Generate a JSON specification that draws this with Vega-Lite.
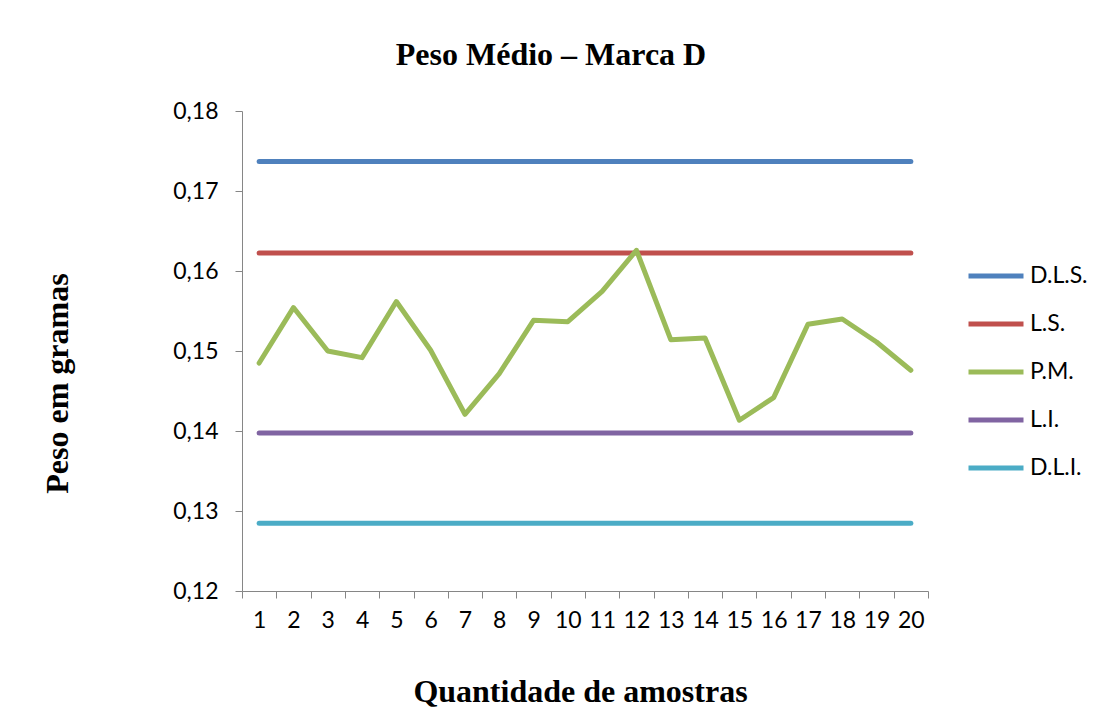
{
  "$schema": "https://vega.github.io/schema/vega-lite/v6.json",
  "width": 686,
  "height": 480,
  "autosize": {"type": "none"},
  "padding": {"left": 242, "top": 111, "right": 180, "bottom": 126},
  "background": "white",
  "title": {
    "text": "Peso Médio – Marca D",
    "font": "Liberation Serif",
    "fontSize": 32,
    "fontWeight": "bold",
    "color": "#000000",
    "anchor": "middle",
    "dx": -34,
    "offset": 28
  },
  "data": {
    "values": [
      {"amostra": 1, "serie": "D.L.S.", "peso": 0.1737},
      {"amostra": 2, "serie": "D.L.S.", "peso": 0.1737},
      {"amostra": 3, "serie": "D.L.S.", "peso": 0.1737},
      {"amostra": 4, "serie": "D.L.S.", "peso": 0.1737},
      {"amostra": 5, "serie": "D.L.S.", "peso": 0.1737},
      {"amostra": 6, "serie": "D.L.S.", "peso": 0.1737},
      {"amostra": 7, "serie": "D.L.S.", "peso": 0.1737},
      {"amostra": 8, "serie": "D.L.S.", "peso": 0.1737},
      {"amostra": 9, "serie": "D.L.S.", "peso": 0.1737},
      {"amostra": 10, "serie": "D.L.S.", "peso": 0.1737},
      {"amostra": 11, "serie": "D.L.S.", "peso": 0.1737},
      {"amostra": 12, "serie": "D.L.S.", "peso": 0.1737},
      {"amostra": 13, "serie": "D.L.S.", "peso": 0.1737},
      {"amostra": 14, "serie": "D.L.S.", "peso": 0.1737},
      {"amostra": 15, "serie": "D.L.S.", "peso": 0.1737},
      {"amostra": 16, "serie": "D.L.S.", "peso": 0.1737},
      {"amostra": 17, "serie": "D.L.S.", "peso": 0.1737},
      {"amostra": 18, "serie": "D.L.S.", "peso": 0.1737},
      {"amostra": 19, "serie": "D.L.S.", "peso": 0.1737},
      {"amostra": 20, "serie": "D.L.S.", "peso": 0.1737},
      {"amostra": 1, "serie": "L.S.", "peso": 0.16225},
      {"amostra": 2, "serie": "L.S.", "peso": 0.16225},
      {"amostra": 3, "serie": "L.S.", "peso": 0.16225},
      {"amostra": 4, "serie": "L.S.", "peso": 0.16225},
      {"amostra": 5, "serie": "L.S.", "peso": 0.16225},
      {"amostra": 6, "serie": "L.S.", "peso": 0.16225},
      {"amostra": 7, "serie": "L.S.", "peso": 0.16225},
      {"amostra": 8, "serie": "L.S.", "peso": 0.16225},
      {"amostra": 9, "serie": "L.S.", "peso": 0.16225},
      {"amostra": 10, "serie": "L.S.", "peso": 0.16225},
      {"amostra": 11, "serie": "L.S.", "peso": 0.16225},
      {"amostra": 12, "serie": "L.S.", "peso": 0.16225},
      {"amostra": 13, "serie": "L.S.", "peso": 0.16225},
      {"amostra": 14, "serie": "L.S.", "peso": 0.16225},
      {"amostra": 15, "serie": "L.S.", "peso": 0.16225},
      {"amostra": 16, "serie": "L.S.", "peso": 0.16225},
      {"amostra": 17, "serie": "L.S.", "peso": 0.16225},
      {"amostra": 18, "serie": "L.S.", "peso": 0.16225},
      {"amostra": 19, "serie": "L.S.", "peso": 0.16225},
      {"amostra": 20, "serie": "L.S.", "peso": 0.16225},
      {"amostra": 1, "serie": "P.M.", "peso": 0.1485},
      {"amostra": 2, "serie": "P.M.", "peso": 0.15543},
      {"amostra": 3, "serie": "P.M.", "peso": 0.1500},
      {"amostra": 4, "serie": "P.M.", "peso": 0.14917},
      {"amostra": 5, "serie": "P.M.", "peso": 0.15618},
      {"amostra": 6, "serie": "P.M.", "peso": 0.15009},
      {"amostra": 7, "serie": "P.M.", "peso": 0.14209},
      {"amostra": 8, "serie": "P.M.", "peso": 0.14717},
      {"amostra": 9, "serie": "P.M.", "peso": 0.15384},
      {"amostra": 10, "serie": "P.M.", "peso": 0.15367},
      {"amostra": 11, "serie": "P.M.", "peso": 0.15746},
      {"amostra": 12, "serie": "P.M.", "peso": 0.16259},
      {"amostra": 13, "serie": "P.M.", "peso": 0.15142},
      {"amostra": 14, "serie": "P.M.", "peso": 0.15163},
      {"amostra": 15, "serie": "P.M.", "peso": 0.14134},
      {"amostra": 16, "serie": "P.M.", "peso": 0.14417},
      {"amostra": 17, "serie": "P.M.", "peso": 0.15334},
      {"amostra": 18, "serie": "P.M.", "peso": 0.1540},
      {"amostra": 19, "serie": "P.M.", "peso": 0.15113},
      {"amostra": 20, "serie": "P.M.", "peso": 0.14759},
      {"amostra": 1, "serie": "L.I.", "peso": 0.13975},
      {"amostra": 2, "serie": "L.I.", "peso": 0.13975},
      {"amostra": 3, "serie": "L.I.", "peso": 0.13975},
      {"amostra": 4, "serie": "L.I.", "peso": 0.13975},
      {"amostra": 5, "serie": "L.I.", "peso": 0.13975},
      {"amostra": 6, "serie": "L.I.", "peso": 0.13975},
      {"amostra": 7, "serie": "L.I.", "peso": 0.13975},
      {"amostra": 8, "serie": "L.I.", "peso": 0.13975},
      {"amostra": 9, "serie": "L.I.", "peso": 0.13975},
      {"amostra": 10, "serie": "L.I.", "peso": 0.13975},
      {"amostra": 11, "serie": "L.I.", "peso": 0.13975},
      {"amostra": 12, "serie": "L.I.", "peso": 0.13975},
      {"amostra": 13, "serie": "L.I.", "peso": 0.13975},
      {"amostra": 14, "serie": "L.I.", "peso": 0.13975},
      {"amostra": 15, "serie": "L.I.", "peso": 0.13975},
      {"amostra": 16, "serie": "L.I.", "peso": 0.13975},
      {"amostra": 17, "serie": "L.I.", "peso": 0.13975},
      {"amostra": 18, "serie": "L.I.", "peso": 0.13975},
      {"amostra": 19, "serie": "L.I.", "peso": 0.13975},
      {"amostra": 20, "serie": "L.I.", "peso": 0.13975},
      {"amostra": 1, "serie": "D.L.I.", "peso": 0.12846},
      {"amostra": 2, "serie": "D.L.I.", "peso": 0.12846},
      {"amostra": 3, "serie": "D.L.I.", "peso": 0.12846},
      {"amostra": 4, "serie": "D.L.I.", "peso": 0.12846},
      {"amostra": 5, "serie": "D.L.I.", "peso": 0.12846},
      {"amostra": 6, "serie": "D.L.I.", "peso": 0.12846},
      {"amostra": 7, "serie": "D.L.I.", "peso": 0.12846},
      {"amostra": 8, "serie": "D.L.I.", "peso": 0.12846},
      {"amostra": 9, "serie": "D.L.I.", "peso": 0.12846},
      {"amostra": 10, "serie": "D.L.I.", "peso": 0.12846},
      {"amostra": 11, "serie": "D.L.I.", "peso": 0.12846},
      {"amostra": 12, "serie": "D.L.I.", "peso": 0.12846},
      {"amostra": 13, "serie": "D.L.I.", "peso": 0.12846},
      {"amostra": 14, "serie": "D.L.I.", "peso": 0.12846},
      {"amostra": 15, "serie": "D.L.I.", "peso": 0.12846},
      {"amostra": 16, "serie": "D.L.I.", "peso": 0.12846},
      {"amostra": 17, "serie": "D.L.I.", "peso": 0.12846},
      {"amostra": 18, "serie": "D.L.I.", "peso": 0.12846},
      {"amostra": 19, "serie": "D.L.I.", "peso": 0.12846},
      {"amostra": 20, "serie": "D.L.I.", "peso": 0.12846}
    ]
  },
  "mark": {"type": "line", "strokeWidth": 5, "strokeCap": "round", "strokeJoin": "round"},
  "encoding": {
    "x": {
      "field": "amostra",
      "type": "ordinal",
      "scale": {"type": "band", "paddingInner": 0, "paddingOuter": 0},
      "axis": {
        "title": "Quantidade de amostras",
        "titleFont": "Liberation Serif",
        "titleFontSize": 32,
        "titleFontWeight": "bold",
        "titleColor": "#000000",
        "titleX": 338,
        "titleY": 110,
        "titleBaseline": "alphabetic",
        "titleAlign": "center",
        "labelAngle": 0,
        "labelFont": "Lato",
        "labelFontSize": 23,
        "labelColor": "#000000",
        "labelPadding": 11,
        "tickBand": "extent",
        "tickSize": 7,
        "tickColor": "#868686",
        "domainColor": "#868686",
        "grid": false
      }
    },
    "y": {
      "field": "peso",
      "type": "quantitative",
      "scale": {"domain": [0.12, 0.18], "nice": false, "zero": false},
      "axis": {
        "title": "Peso em gramas",
        "titleFont": "Liberation Serif",
        "titleFontSize": 32,
        "titleFontWeight": "bold",
        "titleColor": "#000000",
        "titleX": -185,
        "titleY": 272,
        "titleAngle": 270,
        "titleAlign": "center",
        "titleBaseline": "middle",
        "values": [0.12, 0.13, 0.14, 0.15, 0.16, 0.17, 0.18],
        "labelExpr": "replace(format(datum.value, '.2f'), '.', ',')",
        "labelFont": "Lato",
        "labelFontSize": 23,
        "labelColor": "#000000",
        "labelPadding": 17,
        "tickSize": 7,
        "tickColor": "#868686",
        "domainColor": "#868686",
        "grid": false
      }
    },
    "color": {
      "field": "serie",
      "type": "nominal",
      "sort": ["D.L.S.", "L.S.", "P.M.", "L.I.", "D.L.I."],
      "scale": {
        "domain": ["D.L.S.", "L.S.", "P.M.", "L.I.", "D.L.I."],
        "range": ["#4F81BD", "#C0504D", "#9BBB59", "#8064A2", "#4BACC6"]
      },
      "legend": {
        "title": null,
        "orient": "none",
        "legendX": 724,
        "legendY": 135,
        "symbolType": "stroke",
        "symbolSize": 3025,
        "symbolStrokeWidth": 5,
        "rowPadding": 6,
        "labelFont": "Lato",
        "labelFontSize": 23,
        "labelColor": "#000000",
        "labelOffset": 4
      }
    }
  },
  "config": {
    "view": {"stroke": null}
  }
}
